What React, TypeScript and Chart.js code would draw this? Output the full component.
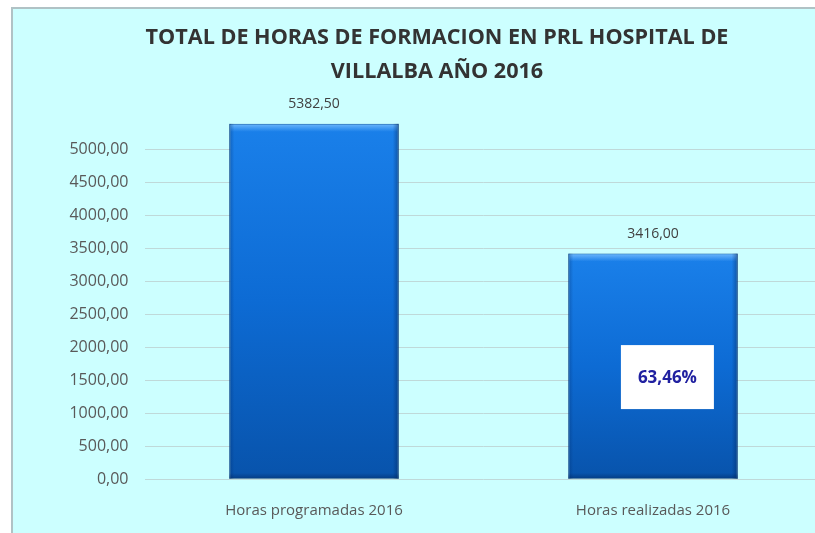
import React, { useEffect, useRef } from 'react';
import { Chart, registerables } from 'chart.js';

Chart.register(...registerables);

// ---- data ----
const TITLE_LINES = ['TOTAL DE HORAS DE FORMACION EN PRL HOSPITAL DE', 'VILLALBA AÑO 2016'];
const CATEGORIES = ['Horas programadas 2016', 'Horas realizadas 2016'];
const HOURS = [5382.5, 3416.0];
const Y_MIN = 0;
const Y_MAX = 5500;
const Y_STEP = 500;

const FONT = "'Open Sans', 'DejaVu Sans', sans-serif";
const fmt = (v: number) => v.toFixed(2).replace('.', ',');
const pctText = () => fmt((HOURS[1] / HOURS[0]) * 100) + '%';

const overlayPlugin = {
  id: 'overlay',
  afterDatasetsDraw(chart: any) {
    const ctx = chart.ctx as CanvasRenderingContext2D;
    const meta = chart.getDatasetMeta(0);
    const yScale = chart.scales.y;
    const base = yScale.getPixelForValue(0);
    meta.data.forEach((bar: any, i: number) => {
      const { x, y, width } = bar.getProps(['x', 'y', 'width'], true);
      const left = x - width / 2;
      const right = x + width / 2;
      ctx.save();
      // top highlight (bevel)
      let g = ctx.createLinearGradient(0, y, 0, y + 8);
      g.addColorStop(0, 'rgba(120,190,255,0.9)');
      g.addColorStop(1, 'rgba(120,190,255,0)');
      ctx.fillStyle = g;
      ctx.fillRect(left + 1, y + 1, width - 2, 8);
      // left edge shade
      g = ctx.createLinearGradient(left, 0, left + 5, 0);
      g.addColorStop(0, 'rgba(0,40,100,0.35)');
      g.addColorStop(1, 'rgba(0,40,100,0)');
      ctx.fillStyle = g;
      ctx.fillRect(left, y, 5, base - y);
      // right edge shade
      g = ctx.createLinearGradient(right - 6, 0, right, 0);
      g.addColorStop(0, 'rgba(0,30,80,0)');
      g.addColorStop(1, 'rgba(0,30,80,0.45)');
      ctx.fillStyle = g;
      ctx.fillRect(right - 6, y, 6, base - y);
      // bottom shade
      g = ctx.createLinearGradient(0, base - 6, 0, base);
      g.addColorStop(0, 'rgba(0,30,80,0)');
      g.addColorStop(1, 'rgba(0,30,80,0.45)');
      ctx.fillStyle = g;
      ctx.fillRect(left, base - 6, width, 6);
      // value label
      ctx.fillStyle = '#404040';
      ctx.font = `14px ${FONT}`;
      ctx.textAlign = 'center';
      ctx.textBaseline = 'middle';
      ctx.fillText(fmt(HOURS[i]), x, y - 20);
      ctx.restore();
    });
    // percentage box on second bar
    const bar2 = meta.data[1] as any;
    if (bar2) {
      const { x, y, width } = bar2.getProps(['x', 'y', 'width'], true);
      const cx = x + width * 0.085;
      const cy = base - (base - y) * 0.452;
      ctx.save();
      ctx.fillStyle = '#ffffff';
      ctx.fillRect(cx - 46.5, cy - 32, 93, 64);
      ctx.fillStyle = '#2020a0';
      ctx.font = `bold 17px ${FONT}`;
      ctx.textAlign = 'center';
      ctx.textBaseline = 'middle';
      ctx.fillText(pctText(), cx, cy + 1);
      ctx.restore();
    }
  },
};

export default function App() {
  const ref = useRef<HTMLCanvasElement | null>(null);

  useEffect(() => {
    if (!ref.current) return;
    const chart = new Chart(ref.current, {
      type: 'bar',
      data: {
        labels: CATEGORIES,
        datasets: [
          {
            data: HOURS,
            backgroundColor: (c: any) => {
              const ch = c.chart;
              const area = ch.chartArea;
              const ys = ch.scales?.y;
              if (!area || !ys || c.dataIndex === undefined) return '#0d6ad6';
              const top = ys.getPixelForValue(HOURS[c.dataIndex]);
              const bottom = ys.getPixelForValue(0);
              const g = ch.ctx.createLinearGradient(0, top, 0, bottom);
              g.addColorStop(0, '#1a80ea');
              g.addColorStop(0.5, '#0d6bd4');
              g.addColorStop(1, '#0853ab');
              return g;
            },
            borderColor: '#0b4f9c',
            borderWidth: 1,
            barPercentage: 0.5,
            categoryPercentage: 1,
          },
        ],
      },
      options: {
        responsive: false,
        animation: false,
        devicePixelRatio: 1,
        layout: { padding: { left: 51.5, right: 17.5, top: 0, bottom: 16 } },
        plugins: {
          legend: { display: false },
          tooltip: { enabled: false },
          title: {
            display: true,
            text: TITLE_LINES,
            color: '#333333',
            font: { family: FONT, size: 21.6, weight: 'bold', lineHeight: 34 / 21.6 },
            padding: { top: 21, bottom: 27 },
          },
        },
        scales: {
          x: {
            grid: { display: false },
            border: { display: false },
            ticks: { color: '#595959', font: { family: FONT, size: 15 }, padding: 15, maxRotation: 0 },
            afterFit: (s: any) => {
              s.height = 45;
            },
          },
          y: {
            min: Y_MIN,
            max: Y_MAX,
            grid: { color: '#BFD9D9', drawTicks: false, lineWidth: 1 },
            border: { display: false },
            ticks: {
              stepSize: Y_STEP,
              color: '#595959',
              font: { family: FONT, size: 16 },
              padding: 16,
              callback: (v: any) => fmt(Number(v)),
            },
            afterBuildTicks: (s: any) => {
              s.ticks = s.ticks.filter((t: any) => t.value < Y_MAX);
            },
            afterFit: (s: any) => {
              s.width = 93;
            },
          },
        },
      },
      plugins: [overlayPlugin],
    } as any);
    return () => chart.destroy();
  }, []);

  return (
    <div style={{ position: 'fixed', left: 0, top: 0, width: 815, height: 533, overflow: 'hidden', background: '#ffffff' }}>
      <div
        style={{
          position: 'absolute',
          left: 11,
          top: 7,
          width: 900,
          height: 600,
          background: '#CCFFFF',
          borderLeft: '2px solid #b0c2c5',
          borderTop: '2px solid #b0c2c5',
        }}
      />
      <canvas
        ref={ref}
        width={840}
        height={540}
        style={{ position: 'absolute', left: 0, top: 0, width: 840, height: 540 }}
      />
    </div>
  );
}
